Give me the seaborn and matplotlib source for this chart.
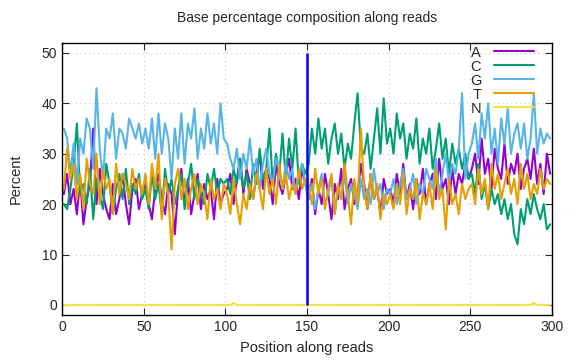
import numpy as np
import pandas as pd
import seaborn as sns
import matplotlib.pyplot as plt

# positions along the read (every 2nd base)
pos = list(range(1, 301, 2))

pct_A = [22, 26, 20, 23, 18, 25, 16, 21, 24, 35, 20, 27, 22, 19, 17, 24, 18, 21, 26, 20, 16, 23, 25, 19, 22,
         24, 20, 17, 23, 26, 21, 18, 24, 22, 14, 23, 27, 20, 25, 18, 22, 26, 19, 24, 21, 23, 17, 25, 20, 22,
         23, 26, 20, 25, 29, 22, 27, 24, 21, 26, 30, 23, 27, 25, 20, 28, 24, 22, 26, 29, 23, 25, 21, 27, 24,
         21, 25, 18, 23, 20, 26, 22, 17, 24, 21, 27, 19, 23, 25, 20, 22, 28, 24, 19, 26, 21, 23, 18, 25, 22,
         23, 20, 26, 22, 28, 21, 24, 19, 25, 22, 27, 20, 24, 26, 21, 29, 23, 25, 20, 27, 22, 26, 24, 28, 25,
         27, 30, 24, 33, 26, 29, 23, 31, 27, 25, 32, 24, 28, 26, 30, 23, 27, 29, 25, 31, 24, 28, 22, 30, 26]

pct_C = [20, 19, 23, 28, 36, 22, 24, 20, 27, 17, 25, 22, 19, 28, 24, 18, 23, 26, 21, 27, 20, 24, 22, 26, 21,
         23, 19, 26, 21, 24, 18, 27, 22, 25, 20, 23, 26, 19, 24, 28, 21, 25, 22, 20, 26, 23, 27, 22, 25, 24,
         25, 22, 27, 24, 29, 23, 26, 21, 28, 24, 31, 25, 27, 35, 24, 30, 26, 34, 25, 33, 27, 35, 24, 28, 26,
         28, 35, 30, 37, 31, 35, 28, 33, 36, 30, 34, 27, 32, 29, 36, 42, 31, 30, 34, 27, 33, 39, 30, 41, 32,
         35, 30, 38, 33, 36, 29, 34, 31, 37, 28, 33, 30, 35, 27, 31, 36, 29, 33, 26, 32, 28, 31, 27, 30, 25,
         26, 22, 28, 21, 24, 19, 23, 20, 22, 18, 21, 17, 20, 14, 12, 19, 16, 21, 18, 22, 19, 17, 20, 15, 16]

pct_G = [35, 33, 26, 32, 24, 33, 30, 37, 35, 27, 43, 31, 25, 35, 33, 38, 29, 35, 34, 31, 37, 35, 33, 36, 32,
         35, 31, 37, 29, 38, 30, 36, 33, 25, 35, 29, 38, 28, 36, 33, 39, 29, 35, 31, 38, 32, 36, 30, 40, 33,
         32, 29, 27, 31, 25, 30, 27, 33, 26, 29, 23, 28, 31, 26, 24, 29, 27, 23, 28, 25, 27, 22, 26, 28, 24,
         21, 24, 19, 23, 26, 20, 22, 25, 18, 23, 21, 26, 20, 24, 22, 19, 25, 21, 23, 20, 27, 22, 24, 19, 23,
         22, 25, 20, 24, 27, 21, 23, 26, 20, 24, 22, 27, 25, 23, 29, 22, 26, 30, 24, 28, 26, 31, 42, 25, 30,
         32, 36, 29, 38, 33, 40, 30, 35, 28, 37, 32, 39, 30, 34, 36, 31, 36, 29, 33, 42, 30, 35, 32, 34, 33]

pct_T = [23, 31, 25, 28, 21, 26, 19, 29, 24, 22, 30, 20, 27, 23, 25, 18, 28, 22, 26, 24, 21, 27, 23, 25, 22,
         26, 20, 28, 23, 30, 17, 25, 22, 11, 24, 27, 21, 25, 19, 23, 26, 20, 24, 22, 17, 25, 21, 23, 19, 24,
         22, 18, 25, 20, 16, 22, 19, 24, 21, 26, 23, 19, 27, 22, 25, 20, 28, 23, 26, 21, 24, 22, 27, 23, 25,
         24, 20, 27, 22, 25, 19, 23, 26, 18, 24, 21, 28, 22, 16, 25, 20, 35, 23, 19, 26, 21, 24, 17, 22, 20,
         22, 19, 24, 20, 26, 18, 23, 21, 25, 17, 22, 20, 24, 19, 27, 21, 23, 15, 25, 20, 22, 18, 24, 21, 23,
         24, 20, 27, 22, 25, 19, 28, 23, 26, 21, 24, 27, 22, 25, 20, 28, 23, 26, 21, 24, 22, 27, 23, 25, 24]

pct_N = [0] * 52 + [0.4] + [0] * 91 + [0.4] + [0] * 5

bases = ["A", "C", "G", "T", "N"]
colors = ["#9400d3", "#009e73", "#56b4e9", "#e69f00", "#f0e442"]
marker_pos = 150

df = pd.DataFrame({"pos": pos, "A": pct_A, "C": pct_C, "G": pct_G, "T": pct_T, "N": pct_N})
long = df.melt(id_vars="pos", var_name="base", value_name="pct")

sns.set_style("ticks")
plt.rcParams["font.family"] = ["Liberation Sans", "DejaVu Sans"]

fig = plt.figure(figsize=(5.76, 3.6), dpi=100)
ax = fig.add_axes([0.108, 0.125, 0.85, 0.756])

sns.lineplot(data=long, x="pos", y="pct", hue="base", hue_order=bases,
             palette=colors, linewidth=1.5, ax=ax, legend=False)
ax.vlines(marker_pos, 0, 50, color="#0000ff", linewidth=1.8)

ax.set_xlim(0, 300)
ax.set_ylim(-2, 52)
ax.set_xticks(range(0, 301, 50))
ax.set_yticks(range(0, 51, 10))
ax.grid(True, color="#c8c8c8", linestyle=(0, (1, 3)), linewidth=0.8)
ax.tick_params(direction="in", top=True, right=True, labelsize=10, length=5)
for s in ax.spines.values():
    s.set_linewidth(1.0)
    s.set_color("black")

ax.set_title("Base percentage composition along reads", fontsize=10, pad=15)
ax.set_xlabel("Position along reads", fontsize=10.5, labelpad=5)
ax.set_ylabel("Percent", fontsize=10.5, labelpad=14)

handles = [plt.Line2D([], [], color=c, linewidth=1.5) for c in colors]
ax.legend(handles, bases, loc="upper right", bbox_to_anchor=(0.963, 0.99), frameon=False,
          markerfirst=False, handlelength=2.7, labelspacing=0.0, handletextpad=0.9,
          fontsize=10.5, borderaxespad=0.0, borderpad=0.0)

fig.savefig("out.png", dpi=100)
